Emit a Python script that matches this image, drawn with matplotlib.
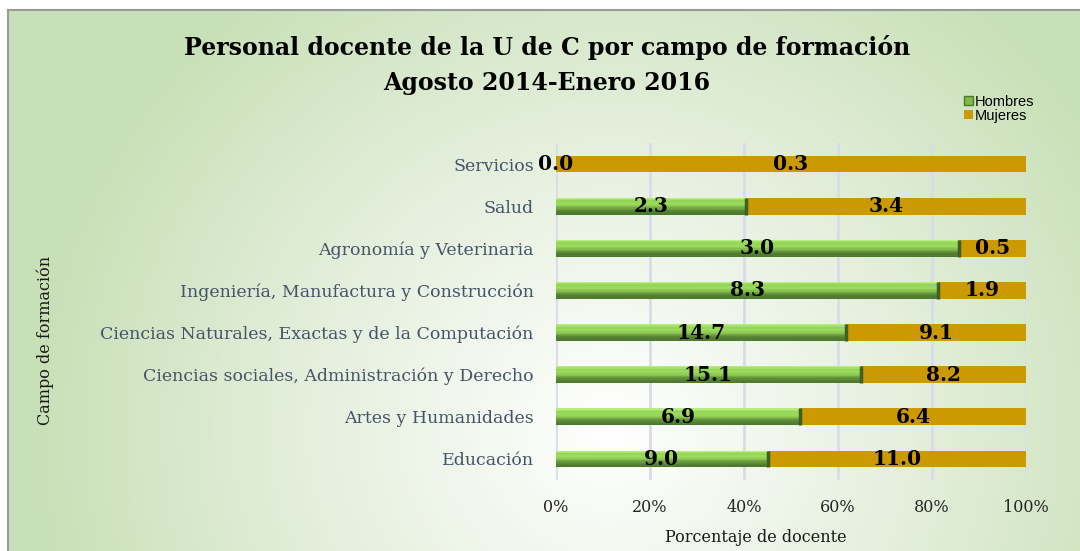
import numpy as np
import matplotlib.pyplot as plt
from matplotlib.colors import LinearSegmentedColormap
from matplotlib.patches import Patch
from matplotlib.lines import Line2D

# campos de formación (de abajo hacia arriba)
campos = [
    'Educación',
    'Artes y Humanidades',
    'Ciencias sociales, Administración y Derecho',
    'Ciencias Naturales, Exactas y de la Computación',
    'Ingeniería, Manufactura y Construcción',
    'Agronomía y Veterinaria',
    'Salud',
    'Servicios',
]
hombres = [9.0, 6.9, 15.1, 14.7, 8.3, 3.0, 2.3, 0.0]
mujeres = [11.0, 6.4, 8.2, 9.1, 1.9, 0.5, 3.4, 0.3]
xticks = [0, 0.2, 0.4, 0.6, 0.8, 1.0]
xtick_labels = ['0%', '20%', '40%', '60%', '80%', '100%']

serif = ['DejaVu Serif']
gold = '#cc9900'

fig = plt.figure(figsize=(10.8, 5.51), dpi=100)
W, H = 1080, 551

# fondo con degradado radial
bg = fig.add_axes([8 / W, 0, 1 - 8 / W, (H - 10) / H])
nx, ny = 300, 160
xx, yy = np.meshgrid(np.linspace(8, W, nx), np.linspace(10, H, ny))
r = np.sqrt(((xx - 610) / 580) ** 2 + ((yy - 430) / 560) ** 2)
r = np.clip(r, 0, 1)
bg_cmap = LinearSegmentedColormap.from_list('bg', ['#ffffff', '#e6f0de', '#c8e0b7'])
bg.imshow(r, cmap=bg_cmap, aspect='auto', extent=[0, 1, 0, 1], origin='upper', vmin=0, vmax=1)
bg.set_axis_off()
fig.add_artist(Line2D([8 / W, 1], [(H - 10) / H] * 2, color='#9a9a9a', lw=1.5))
fig.add_artist(Line2D([8 / W] * 2, [0, (H - 10) / H], color='#9a9a9a', lw=1.5))

ax = fig.add_axes([556 / W, (H - 480) / H, 470 / W, 337 / H])
ax.set_facecolor('none')

y = np.arange(len(campos))
tot = np.array(hombres) + np.array(mujeres)
ph = np.array(hombres) / tot
pm = np.array(mujeres) / tot
bh = 0.4

# barra verde con degradado vertical (simula el bisel)
green = LinearSegmentedColormap.from_list(
    'g', ['#4a7a2c', '#557f33', '#6a9c3e', '#8cc852', '#9fdc62', '#92d452', '#b6ec80'])
n = 14
for k in range(n):
    ax.barh(y - bh / 2 + k * bh / n, ph, height=bh / n, align='edge',
            color=green(k / (n - 1)), lw=0, zorder=3)
ax.barh(y, pm, left=ph, height=bh, color=gold, lw=0, zorder=3)
# borde oscuro al final del segmento verde
for yi, p in zip(y, ph):
    if p > 0:
        ax.plot([p, p], [yi - bh / 2, yi + bh / 2], color='#3e5f25', lw=2.5,
                solid_capstyle='butt', zorder=4)

for yi, h, m, p, q in zip(y, hombres, mujeres, ph, pm):
    ax.text(p / 2, yi, f'{h:.1f}', ha='center', va='center', fontsize=14.5,
            fontweight='bold', family=serif, color='black', zorder=5)
    ax.text(p + q / 2, yi, f'{m:.1f}', ha='center', va='center', fontsize=14.5,
            fontweight='bold', family=serif, color='black', zorder=5)

ax.set_xlim(0, 1)
ax.set_ylim(-0.5, len(campos) - 0.5)
ax.set_xticks(xticks)
ax.set_xticklabels(xtick_labels, family=serif, fontsize=11.5, color='#262626')
ax.set_yticks(y)
ax.set_yticklabels(campos, family=serif, fontsize=12.5, color='#44546a')
ax.tick_params(axis='y', length=0, pad=16)
ax.tick_params(axis='x', length=0, pad=14)
ax.grid(axis='x', color='#d9dce6', lw=2, zorder=0)
for s in ax.spines.values():
    s.set_visible(False)

fig.text(547 / W, 1 - 48 / H, 'Personal docente de la U de C por campo de formación',
         ha='center', va='center', fontsize=17, fontweight='bold', family=serif)
fig.text(547 / W, 1 - 83 / H, 'Agosto 2014-Enero 2016',
         ha='center', va='center', fontsize=17, fontweight='bold', family=serif)
fig.text(45 / W, 1 - 340 / H, 'Campo de formación', rotation=90, ha='center',
         va='center', fontsize=11.5, family=serif, color='#1a1a1a')
fig.text(756 / W, 1 - 538 / H, 'Porcentaje de docente', ha='center', va='center',
         fontsize=11.5, family=serif, color='#1a1a1a')

handles = [Patch(facecolor='#7fb94a', edgecolor='#4a7a2c'), Patch(facecolor=gold)]
fig.legend(handles, ['Hombres', 'Mujeres'], loc='center left',
           bbox_to_anchor=(957 / W, 1 - 109 / H), frameon=False,
           prop={'family': 'Liberation Sans', 'size': 10.5}, handlelength=0.6,
           handleheight=0.6, handletextpad=0.15, labelspacing=0.0, borderpad=0)

fig.savefig('out.png', dpi=100)
